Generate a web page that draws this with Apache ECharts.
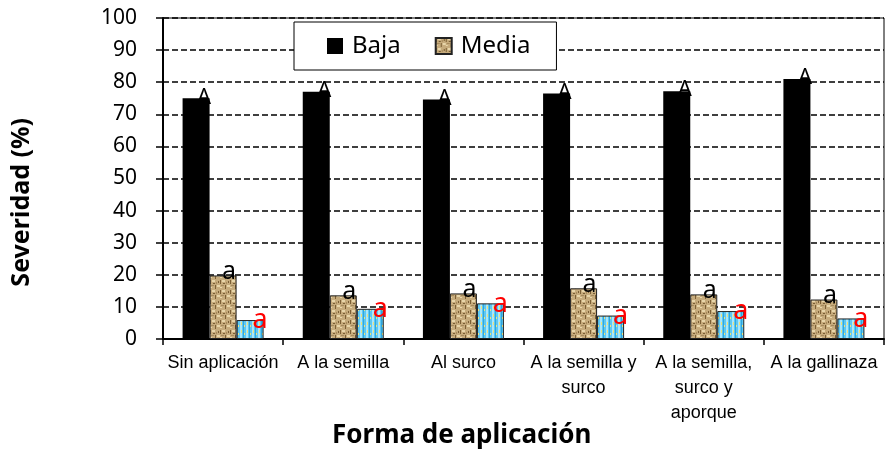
<!DOCTYPE html>
<html>
<head>
<meta charset="utf-8">
<script src="https://cdn.jsdelivr.net/npm/echarts@6/dist/echarts.min.js"></script>
<style>html,body{margin:0;padding:0;background:#fff}#c{width:889px;height:462px}</style>
</head>
<body>
<div id="c"></div>
<script>
const categories = ['Sin aplicación', 'A la semilla', 'Al surco', 'A la semilla y\nsurco', 'A la semilla,\nsurco y\naporque', 'A la gallinaza'];
const baja = [75.0, 77.0, 74.6, 76.5, 77.2, 81.0];
const media = [19.8, 13.6, 14.2, 15.8, 13.9, 12.3];
const alta = [5.9, 9.4, 11.1, 7.3, 8.7, 6.4];
const bajaLabels = ['A', 'A', 'A', 'A', 'A', 'A'];
const mediaLabels = ['a', 'a', 'a', 'a', 'a', 'a'];
const altaLabels = ['a', 'a', 'a', 'a', 'a', 'a'];
const yTicks = [0, 10, 20, 30, 40, 50, 60, 70, 80, 90, 100];

function burlap() {
  const c = document.createElement('canvas'); c.width = 10; c.height = 10;
  const x = c.getContext('2d');
  x.fillStyle = '#c6ab7c'; x.fillRect(0, 0, 10, 10);
  x.fillStyle = '#e8d6aa'; x.fillRect(2, 0, 3, 2); x.fillRect(7, 5, 3, 2); x.fillRect(0, 7, 2, 1);
  x.fillStyle = '#7a5f35'; x.fillRect(0, 0, 1, 4); x.fillRect(5, 5, 1, 4); x.fillRect(3, 3, 2, 1); x.fillRect(8, 1, 1, 2);
  x.fillStyle = '#a68a5c'; x.fillRect(1, 5, 3, 1); x.fillRect(6, 2, 1, 2);
  return c;
}
function stripes() {
  const c = document.createElement('canvas'); c.width = 6; c.height = 8;
  const x = c.getContext('2d');
  x.fillStyle = '#5ec8f2'; x.fillRect(0, 0, 6, 8);
  x.fillStyle = '#a9e6fb'; x.fillRect(0, 0, 2, 8);
  x.fillStyle = '#2fa6de'; x.fillRect(3, 0, 1, 8);
  x.fillStyle = '#f0e27a'; x.fillRect(1, 2, 1, 3); x.fillRect(4, 5, 1, 2);
  return c;
}

const chart = echarts.init(document.getElementById('c'));
const catFont = "'Liberation Sans', Arial, sans-serif";
chart.setOption({
  animation: false,
  backgroundColor: '#fff',
  grid: { left: 163, right: 5, top: 18, bottom: 123, show: true, borderColor: '#000', borderWidth: 1 },
  legend: {
    data: ['Baja', 'Media'],
    left: 294, top: 22,
    padding: [12, 26, 12, 33],
    backgroundColor: '#fff', borderColor: '#000', borderWidth: 1,
    itemWidth: 16, itemHeight: 16, itemGap: 34,
    icon: 'rect',
    textStyle: { fontFamily: 'Noto Sans', fontSize: 24, color: '#000', padding: [0, 0, 0, 4] }
  },
  xAxis: {
    type: 'category', data: categories,
    axisLine: { lineStyle: { color: '#000', width: 2 } },
    axisTick: { show: true, length: 6, lineStyle: { color: '#000', width: 1.5 } },
    axisLabel: { fontFamily: catFont, fontSize: 18, color: '#000', lineHeight: 25, margin: 12, interval: 0 }
  },
  yAxis: {
    type: 'value', min: 0, max: 100, interval: 10,
    axisLine: { show: true, lineStyle: { color: '#000', width: 2 } },
    axisTick: { show: true, length: 7, lineStyle: { color: '#000', width: 1.5 } },
    axisLabel: { fontFamily: 'Noto Sans', fontSize: 21, color: '#000', margin: 26,
      formatter: v => yTicks.includes(v) ? String(v) : '' },
    splitLine: { lineStyle: { color: '#000', width: 1.5, type: [6, 3] } }
  },
  graphic: [
    { type: 'text', left: 9, top: 118, rotation: Math.PI / 2,
      style: { text: 'Severidad (%)', font: 'bold 25px "Noto Sans"', fill: '#000' } },
    { type: 'text', left: 332, top: 423,
      style: { text: 'Forma de aplicación', font: 'bold 26px "Noto Sans"', fill: '#000' } }
  ],
  series: [
    { name: 'Baja', type: 'bar', data: baja, barWidth: 27, barGap: '0%',
      itemStyle: { color: '#000' },
      label: { show: true, position: 'top', distance: 0, formatter: p => bajaLabels[p.dataIndex],
        fontFamily: 'Noto Sans', fontSize: 22, lineHeight: 22, color: '#000', offset: [8, 10] } },
    { name: 'Media', type: 'bar', data: media, barWidth: 27,
      itemStyle: { color: { image: burlap(), repeat: 'repeat' }, borderColor: '#222', borderWidth: 1 },
      label: { show: true, position: 'top', distance: 0, formatter: p => mediaLabels[p.dataIndex],
        fontFamily: 'Noto Sans', fontSize: 25, lineHeight: 25, color: '#000', offset: [6, 9] } },
    { name: 'Alta', type: 'bar', data: alta, barWidth: 27,
      itemStyle: { color: { image: stripes(), repeat: 'repeat' }, borderColor: '#222', borderWidth: 1 },
      label: { show: true, position: 'top', distance: 0, formatter: p => altaLabels[p.dataIndex],
        fontFamily: 'Noto Sans', fontSize: 27, lineHeight: 27, color: '#ff0000', offset: [10, 14] } }
  ]
});
</script>
</body>
</html>
